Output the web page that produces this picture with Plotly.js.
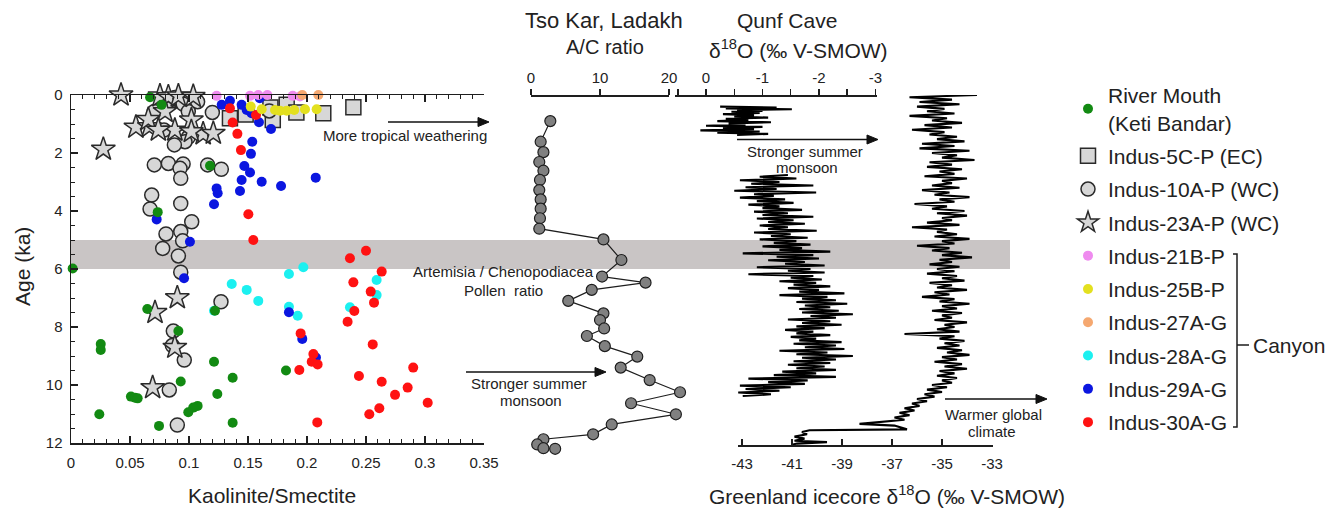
<!DOCTYPE html>
<html><head><meta charset="utf-8">
<script src="https://cdn.plot.ly/plotly-3.0.1.min.js"></script>
<style>html,body{margin:0;padding:0;background:#fff;}#chart{width:1336px;height:510px;}</style>
</head><body><div id="chart"></div>
<script>
// ---------- Left panel: Kaolinite/Smectite vs Age (ka) ----------
const riverX   = [0.067,0.0768,0.1178,0.0735,0.0014,0.0647,0.122,0.091,0.0252,0.0252,0.1212,0.1822,0.137,0.093,0.0508,0.0542,0.0565,0.124,0.1073,0.1036,0.0994,0.024,0.137,0.0746,0.196];
const riverAge = [0.08,0.34,2.44,4.04,5.98,7.38,7.44,8.14,8.59,8.79,9.2,9.5,9.75,9.88,10.4,10.44,10.46,10.31,10.72,10.78,10.94,11.01,11.3,11.41,12.07];

const i5cX   = [0.1347,0.148,0.169,0.171,0.1828,0.191,0.2138,0.2393];
const i5cAge = [0.8,0.67,0.43,0.86,0.34,0.6,0.63,0.42];

const i10aX   = [0.083,0.088,0.0706,0.095,0.0994,0.1073,0.1198,0.168,0.0788,0.0994,0.0966,0.0876,0.0706,0.0825,0.095,0.0924,0.1158,0.1274,0.093,0.0684,0.067,0.093,0.1023,0.093,0.0805,0.0946,0.0777,0.091,0.093,0.1271,0.0867,0.0859,0.096,0.0833,0.0901];
const i10aAge = [0.2,0.09,0.57,0.31,0.57,0.23,0.6,0.55,1.21,1.46,1.61,1.72,2.41,2.36,2.38,2.53,2.41,2.56,2.87,3.45,3.93,3.74,4.37,4.71,4.79,5.03,5.29,5.55,6.11,7.13,8.14,8.64,9.14,10.17,11.38];

const i23aX   = [0.0424,0.0274,0.055,0.0664,0.0754,0.0825,0.091,0.1036,0.0797,0.0655,0.088,0.074,0.102,0.112,0.1206,0.102,0.0901,0.0712,0.088,0.0692];
const i23aAge = [0.0,1.87,1.11,1.09,0.03,0.06,0.03,0.05,0.57,0.84,1.21,1.21,0.86,1.34,1.32,1.26,6.99,7.5,8.7,10.09];

const i21bX   = [0.1234,0.1517,0.1587,0.1664,0.1879,0.194];
const i21bAge = [0.03,0.03,0.0,0.0,0.03,0.05];

const i25bX   = [0.1523,0.1616,0.1729,0.1771,0.1828,0.1892,0.1983,0.2082];
const i25bAge = [0.4,0.49,0.52,0.54,0.54,0.52,0.49,0.49];

const i27aX   = [0.1805,0.196,0.2096];
const i27aAge = [-0.03,0.0,0.0];

const i28aX   = [0.1847,0.1969,0.1362,0.1489,0.1587,0.1847,0.1921,0.1212,0.259,0.259,0.2364];
const i28aAge = [6.17,5.94,6.52,6.72,7.1,7.3,7.61,7.44,6.38,6.9,7.32];

const i29aX   = [0.1277,0.1347,0.1446,0.1489,0.153,0.160,0.1593,0.1695,0.1536,0.1525,0.1469,0.1517,0.1446,0.1616,0.178,0.1234,0.1243,0.1432,0.1212,0.0726,0.1008,0.2074,0.0958,0.1847,0.196,0.2076];
const i29aAge = [0.34,0.2,0.34,0.52,0.63,0.11,0.94,1.17,1.61,2.03,2.45,2.67,2.93,2.99,3.14,3.22,3.39,3.31,3.77,4.29,5.06,2.85,6.32,7.49,8.41,9.05];

const i30aX   = [0.1347,0.1568,0.137,0.141,0.144,0.1503,0.1545,0.25,0.2364,0.2633,0.2393,0.254,0.2568,0.2401,0.2344,0.1946,0.2557,0.2054,0.204,0.209,0.1935,0.29,0.244,0.2633,0.2853,0.2746,0.3023,0.2613,0.2528,0.2087];
const i30aAge = [0.46,0.69,0.95,1.34,1.9,4.11,5.0,5.37,5.63,6.09,6.46,6.78,7.16,7.45,7.82,8.22,8.6,8.93,9.2,9.29,9.48,9.4,9.69,9.89,10.09,10.34,10.61,10.8,11.01,11.29];

// ---------- Tso Kar A/C ratio ----------
const tsoAge = [0.9,1.61,1.97,2.31,2.61,2.93,3.28,3.6,3.92,4.25,4.61,4.98,5.69,6.26,6.47,6.72,7.1,7.53,7.76,8.05,8.31,8.66,9.02,9.4,9.83,10.25,10.63,11.01,11.36,11.7,11.87,12.05,12.18,12.2];
const tsoAC  = [2.8,1.4,1.8,1.2,1.8,1.3,1.2,1.4,1.4,1.3,1.2,10.5,13.1,10.3,16.6,8.8,5.4,10.5,10.0,10.6,8.1,10.7,15.4,13.0,17.2,21.6,14.5,21.0,11.7,9.0,1.8,0.9,1.8,3.5];

// ---------- Qunf Cave d18O (null = gap in record) ----------
const qunfAge = [0.40,0.43,0.46,0.49,0.52,0.55,0.58,0.62,0.66,0.70,0.74,0.78,0.82,0.86,0.90,0.94,0.98,1.02,1.06,1.10,1.14,1.18,1.22,1.26,1.30,1.34,1.38,2.0,
2.76,2.82,2.88,2.94,3.00,3.06,3.12,3.18,3.24,3.30,3.36,3.42,3.48,3.54,3.60,3.66,3.72,3.78,3.84,3.90,3.96,4.02,4.08,4.14,4.20,4.26,4.32,4.38,4.44,4.50,4.56,4.62,4.68,4.74,4.80,4.86,4.92,4.98,
5.04,5.10,5.16,5.22,5.28,5.34,5.40,5.46,5.52,5.58,5.64,5.70,5.76,5.82,5.88,5.94,6.00,6.06,6.12,6.18,6.24,6.30,6.36,6.42,6.48,6.54,6.60,6.66,6.72,6.78,6.84,6.90,6.96,7.02,7.08,7.14,7.20,7.26,7.32,7.38,7.44,7.50,7.56,7.62,7.68,7.74,7.80,7.86,7.92,7.98,
8.04,8.10,8.16,8.22,8.28,8.34,8.40,8.46,8.52,8.58,8.64,8.70,8.76,8.82,8.88,8.94,9.00,9.06,9.12,9.18,9.24,9.30,9.36,9.42,9.48,9.54,9.60,9.66,9.72,9.78,9.84,9.90,9.96,10.02,10.08,10.14,10.20,10.26,10.32,10.38];
const qunfD18O = [-0.25,-1.25,-0.35,-1.52,-0.55,-1.0,-0.45,-0.95,-0.3,-0.85,-0.5,-1.1,-0.35,-0.75,-0.2,-1.15,-0.4,-0.7,0.0,-1.0,-0.3,-0.85,0.1,-0.95,-0.2,-1.1,-0.55,null,
-1.45,-0.95,-1.6,-0.6,-1.3,-0.8,-1.9,-0.7,-1.25,-0.5,-1.95,-0.85,-1.2,-0.6,-1.4,-0.9,-1.55,-0.75,-1.3,-1.0,-1.7,-0.85,-1.45,-1.0,-1.9,-0.9,-1.55,-1.1,-1.75,-0.95,-1.45,-1.1,-1.96,-0.85,-1.5,-1.15,-1.8,-0.95,
-1.6,-1.2,-1.85,-1.0,-1.7,-1.3,-2.2,-0.65,-1.9,-1.25,-2.0,-1.1,-1.75,-1.4,-2.1,-0.9,-1.85,-1.45,-2.1,-0.75,-1.9,-1.5,-2.05,-1.3,-1.95,-1.55,-2.2,-1.45,-2.0,-1.65,-2.45,-1.3,-2.15,-1.7,-2.3,-1.6,-2.5,-1.75,-2.2,-1.65,-2.35,-1.7,-2.6,-1.85,-2.3,-1.45,-2.2,-1.7,-2.4,-1.6,
-2.1,-1.4,-1.9,-1.6,-2.2,-1.5,-1.95,-1.65,-2.4,-1.55,-2.3,-1.75,-2.45,-1.3,-2.15,-1.6,-2.6,-1.7,-2.3,-1.55,-2.2,-1.45,-2.1,-1.6,-2.3,-1.35,-1.95,-1.2,-2.3,-0.75,-1.8,-1.1,-1.75,-0.6,-1.5,-0.7,-1.3,-0.57,-1.15,-0.65];

// ---------- Greenland ice core d18O ----------
const grnAge = [0.00,0.08,0.16,0.24,0.32,0.40,0.48,0.56,0.64,0.72,0.80,0.88,0.96,1.04,1.12,1.20,1.28,1.36,1.44,1.52,1.60,1.68,1.76,1.84,1.92,2.00,2.08,2.16,2.24,2.32,2.40,2.48,2.56,2.64,2.72,2.80,2.88,2.96,3.04,3.12,3.20,3.28,3.36,3.44,3.52,3.60,3.68,3.76,3.84,3.92,
4.00,4.08,4.16,4.24,4.32,4.40,4.48,4.56,4.64,4.72,4.80,4.88,4.96,5.04,5.12,5.20,5.28,5.36,5.44,5.52,5.60,5.68,5.76,5.84,5.92,6.00,6.08,6.16,6.24,6.32,6.40,6.48,6.56,6.64,6.72,6.80,6.88,6.96,7.04,7.12,7.20,7.28,7.36,7.44,7.52,7.60,7.68,7.76,7.84,7.92,
8.00,8.08,8.16,8.24,8.32,8.40,8.48,8.56,8.64,8.72,8.80,8.88,8.96,9.04,9.12,9.20,9.28,9.36,9.44,9.52,9.60,9.68,9.76,9.84,9.92,10.00,10.08,10.16,10.24,
10.32,10.40,10.48,10.56,10.64,10.72,10.80,10.88,10.96,11.04,11.12,11.20,11.28,11.34,11.40,11.48,11.53,11.56,11.62,11.70,11.78,11.85,11.92,11.97,12.02,12.06];
const grnD18O = [-33.6,-36.3,-34.6,-35.9,-34.3,-36.0,-34.9,-35.6,-34.5,-36.3,-34.8,-35.4,-34.2,-35.7,-34.6,-36.2,-34.9,-35.5,-34.4,-35.2,-34.1,-35.8,-34.5,-35.9,-33.9,-35.4,-34.4,-35.0,-33.7,-35.5,-34.6,-35.6,-34.2,-35.1,-34.5,-35.7,-34.0,-35.0,-34.6,-35.4,-34.3,-35.8,-34.7,-35.3,-33.9,-35.1,-34.5,-36.1,-34.8,-35.4,
-34.1,-35.2,-34.0,-35.0,-34.6,-35.6,-34.3,-36.2,-34.8,-35.2,-34.4,-35.3,-33.9,-35.0,-34.5,-36.0,-34.7,-35.4,-34.2,-35.0,-33.8,-35.1,-34.6,-35.5,-34.3,-35.2,-34.5,-35.6,-34.4,-35.0,-34.1,-35.5,-34.6,-35.2,-34.0,-35.3,-34.7,-35.8,-34.5,-35.1,-33.9,-35.0,-34.4,-35.4,-34.2,-35.0,-34.6,-35.3,-34.0,-34.9,
-34.5,-35.2,-34.3,-36.5,-34.5,-35.1,-34.1,-34.9,-34.3,-35.2,-34.2,-34.8,-33.9,-35.0,-34.4,-35.3,-34.2,-34.9,-34.0,-35.1,-34.5,-35.2,-34.4,-35.0,-34.6,-35.4,-34.8,-35.6,-35.0,
-35.7,-35.3,-36.0,-35.6,-36.2,-35.9,-36.5,-36.1,-36.7,-36.3,-36.9,-36.5,-37.4,-38.3,-36.9,-36.6,-36.4,-40.3,-40.6,-40.4,-40.9,-40.5,-40.9,-39.6,-40.8,-41.0];

// ---------- helpers ----------
const W = 1336, H = 510;
const px = x => x / W, py = y => 1 - y / H;
const FONT = '"Liberation Sans", Arial, Helvetica, sans-serif';
const INK = '#1e1e1e';

function dots(name, xs, ys, color, rank) {
  return {type:'scatter', mode:'markers', name:name, x:xs, y:ys, xaxis:'x', yaxis:'y',
    legendgroup:name, legendrank:rank, cliponaxis:false, hoverinfo:'skip',
    marker:{color:color, size:10, line:{width:0}}};
}
function openSym(name, xs, ys, symbol, size, rank) {
  return {type:'scatter', mode:'markers', name:name, x:xs, y:ys, xaxis:'x', yaxis:'y',
    legendgroup:name, legendrank:rank, cliponaxis:false, hoverinfo:'skip',
    marker:{symbol:symbol, size:size, color:'#d7d7d7', line:{color:'#2a2a2a', width:1.5}}};
}

const traces = [
  openSym('Indus-5C-P (EC)', i5cX, i5cAge, 'square', 15, 2),
  openSym('Indus-10A-P (WC)', i10aX, i10aAge, 'circle', 14, 3),
  openSym('Indus-23A-P (WC)', i23aX, i23aAge, 'star', 18, 4),
  dots('Indus-28A-G', i28aX, i28aAge, '#1cf0f0', 8),
  dots('Indus-29A-G', i29aX, i29aAge, '#0b16e0', 9),
  dots('Indus-30A-G', i30aX, i30aAge, '#ff1212', 10),
  dots('Indus-21B-P', i21bX, i21bAge, '#ef8bef', 5),
  dots('Indus-25B-P', i25bX, i25bAge, '#e3e01f', 6),
  dots('Indus-27A-G', i27aX, i27aAge, '#f5a870', 7),
  dots('River Mouth<br>(Keti Bandar)', riverX, riverAge, '#128a12', 1),
  {type:'scatter', mode:'lines', x:[], y:[], xaxis:'x2', yaxis:'y', showlegend:false, hoverinfo:'skip'},
  {type:'scatter', mode:'lines+markers', x:tsoAC, y:tsoAge, xaxis:'x3', yaxis:'y3', showlegend:false, hoverinfo:'skip',
    line:{color:INK, width:1.2}, marker:{size:11, color:'#808080', line:{color:INK, width:1.2}}},
  {type:'scatter', mode:'lines', x:qunfD18O, y:qunfAge, xaxis:'x4', yaxis:'y', showlegend:false, hoverinfo:'skip',
    connectgaps:false, line:{color:'#000', width:2.1}},
  {type:'scatter', mode:'lines', x:grnD18O, y:grnAge, xaxis:'x5', yaxis:'y5', showlegend:false, hoverinfo:'skip',
    line:{color:'#000', width:2.1}}
];

const tickFont = {size:15, color:'#222', family:FONT};
const baseAx = {showgrid:false, zeroline:false, showline:true, linecolor:INK, linewidth:1.5,
  tickcolor:INK, tickwidth:1.5, tickfont:tickFont, fixedrange:true};

const layout = {
  width:W, height:H, margin:{l:0, r:0, t:0, b:0, pad:0},
  paper_bgcolor:'#ffffff', plot_bgcolor:'rgba(0,0,0,0)',
  font:{family:FONT, color:'#222'}, hovermode:false, showlegend:true,
  xaxis: Object.assign({}, baseAx, {domain:[px(71), px(484)], range:[0, 0.35], anchor:'y',
    mirror:'ticks', ticks:'inside', ticklen:7, dtick:0.05, tick0:0, ticklabelstandoff:5,
    minor:{dtick:0.01, ticks:'inside', ticklen:4, tickwidth:1, tickcolor:INK, showgrid:false}}),
  yaxis: Object.assign({}, baseAx, {domain:[py(443), py(95)], range:[12, 0], anchor:'x',
    ticks:'inside', ticklen:7, dtick:2, tick0:0, ticklabelstandoff:4,
    minor:{dtick:0.5, ticks:'inside', ticklen:4, tickwidth:1, tickcolor:INK, showgrid:false}}),
  xaxis2: Object.assign({}, baseAx, {domain:[px(531), px(669)], range:[0, 20], anchor:'free',
    position:py(95), side:'top', ticks:'outside', ticklen:6, tickvals:[0, 10, 20], ticktext:['0','10','20']}),
  xaxis3: {domain:[px(531), px(531 + 6.9 * 24)], range:[0, 24], anchor:'y3', visible:false, fixedrange:true},
  yaxis3: {domain:[py(95 + 29 * 12.6), py(95)], range:[12.6, 0], anchor:'x3', visible:false, fixedrange:true},
  xaxis4: Object.assign({}, baseAx, {domain:[px(675), px(877)], range:[0.549, -3.027], anchor:'free',
    position:py(95), side:'top', ticks:'outside', ticklen:6,
    tickvals:[0, -1, -2, -3], ticktext:['0', '-1', '-2', '-3'],
    minor:{tickvals:[0.5, -0.5, -1.5, -2.5], ticks:'outside', ticklen:6, tickwidth:1.5, tickcolor:INK, showgrid:false}}),
  xaxis5: Object.assign({}, baseAx, {domain:[px(737.7), px(993)], range:[-43.172, -32.96], anchor:'free',
    position:py(445), side:'bottom', ticks:'inside', ticklen:6, ticklabelstandoff:4,
    tickvals:[-43, -41, -39, -37, -35, -33], ticktext:['-43','-41','-39','-37','-35','-33']}),
  yaxis5: {domain:[py(95 + 29 * 12.2), py(95)], range:[12.2, 0], anchor:'x5', visible:false, fixedrange:true},
  legend:{x:px(1068), y:py(75), xanchor:'left', yanchor:'top', traceorder:'grouped', tracegroupgap:3,
    font:{size:21, color:'#222', family:FONT}, bgcolor:'rgba(0,0,0,0)', borderwidth:0},
  shapes:[
    {type:'rect', xref:'paper', yref:'y', x0:px(71), x1:px(1010), y0:5, y1:6,
      fillcolor:'#c9c5c5', line:{width:0}, layer:'below'},
    {type:'path', xref:'paper', yref:'paper', line:{color:INK, width:1.5},
      path:'M'+px(1233)+','+py(254)+' L'+px(1237)+','+py(254)+' L'+px(1237)+','+py(427)+' L'+px(1233)+','+py(427)+
           ' M'+px(1237)+','+py(345)+' L'+px(1249)+','+py(345)}
  ],
  annotations:[]
};

function label(text, x, y, size, opts) {
  layout.annotations.push(Object.assign({text:text, xref:'paper', yref:'paper', x:px(x), y:py(y),
    xanchor:'center', yanchor:'middle', showarrow:false, font:{size:size, color:'#222', family:FONT}}, opts || {}));
}
// arrows drawn as shapes: a shaft and a filled triangular head
function arrow(x0, x1, y) {
  layout.shapes.push({type:'line', xref:'paper', yref:'paper', x0:px(x0), x1:px(x1 - 8), y0:py(y), y1:py(y),
    line:{color:'#111', width:1.6}});
  layout.shapes.push({type:'path', xref:'paper', yref:'paper', fillcolor:'#111', line:{color:'#111', width:1},
    path:'M'+px(x1)+','+py(y)+' L'+px(x1 - 11)+','+py(y - 4.5)+' L'+px(x1 - 11)+','+py(y + 4.5)+' Z'});
}

label('Tso Kar, Ladakh', 604, 21, 22);
label('A/C ratio', 605, 47, 20);
label('Qunf Cave', 787, 21, 21);
label('δ<sup>18</sup>O (‰ V-SMOW)', 798, 49, 21);
label('Age (ka)', 22, 267, 21, {textangle:-90});
label('Kaolinite/Smectite', 272, 495, 21);
label('Greenland icecore δ<sup>18</sup>O (‰ V-SMOW)', 887, 495, 21);
label('More tropical weathering', 405, 136, 15);
label('Artemisia / Chenopodiacea', 504, 271, 15);
label('Pollen  ratio', 504, 290, 15);
label('Stronger summer', 529, 383, 15);
label('monsoon', 531, 400, 15);
label('Stronger summer', 805, 151, 15);
label('monsoon', 807, 168, 15);
label('Warmer global', 994, 414, 15);
label('climate', 992, 431, 15);
label('Canyon', 1251, 345, 21, {xanchor:'left'});
arrow(388, 489, 122);
arrow(466, 606, 372);
arrow(737, 878, 139.5);
arrow(945, 1047, 399);

Plotly.newPlot('chart', traces, layout, {staticPlot:true, displayModeBar:false});
</script></body></html>
